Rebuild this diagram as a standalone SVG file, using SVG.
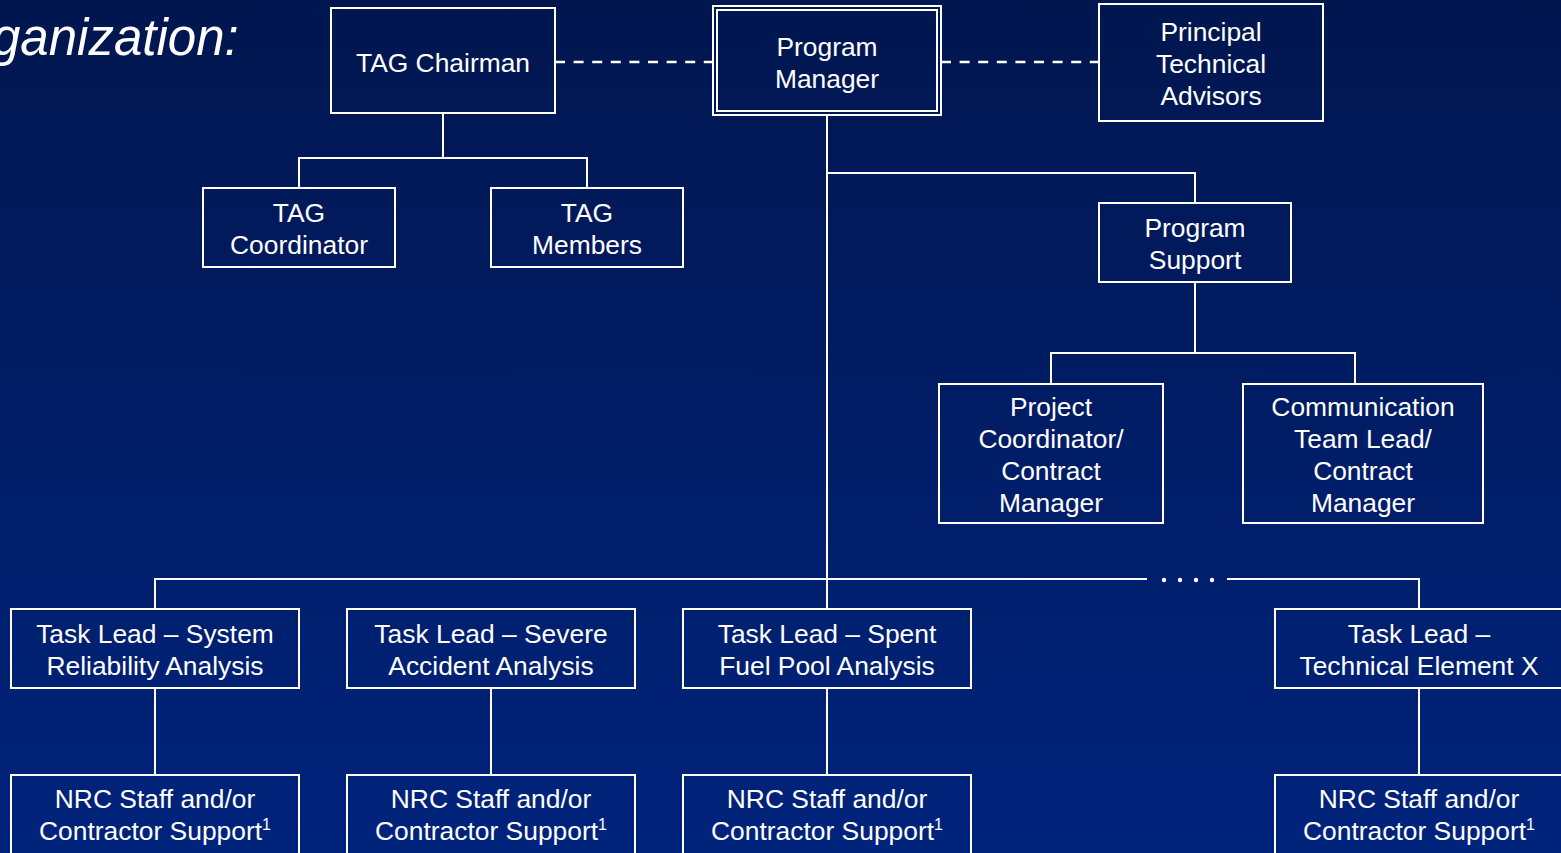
<svg xmlns="http://www.w3.org/2000/svg" width="1561" height="853" viewBox="0 0 1561 853">
<defs>
<linearGradient id="bg" x1="0" y1="0" x2="0" y2="1">
<stop offset="0" stop-color="#00164f"/>
<stop offset="1" stop-color="#00237c"/>
</linearGradient>
<style>
.b{fill:none;stroke:#fff;stroke-width:2}
.l{fill:none;stroke:#fff;stroke-width:2}
.d{fill:none;stroke:#fff;stroke-width:2.5;stroke-dasharray:10 8.6}
text{font-family:"Liberation Sans",Arial,sans-serif;font-size:26.4px;fill:#fff;text-anchor:middle}
.sup{font-size:16px}
</style>
</defs>
<rect width="1561" height="853" fill="url(#bg)"/>
<text x="-8" y="55" style="font-size:51px;font-style:italic;text-anchor:start">ganization:</text>
<g id="connectors">
<path class="d" d="M555 62H713M941 62H1099"/>
<path class="l" d="M443 113V158M299 188V158H587V188"/>
<path class="l" d="M827 115V609M827 173H1195V203"/>
<path class="l" d="M1195 282V353M1051 384V353H1355V384"/>
<path class="l" d="M155 609V579H1147M1227 579H1419V609"/>
<circle cx="1164" cy="580" r="2.2" fill="#fff"/>
<circle cx="1180" cy="580" r="2.2" fill="#fff"/>
<circle cx="1196" cy="580" r="2.2" fill="#fff"/>
<circle cx="1212" cy="580" r="2.2" fill="#fff"/>
<path class="l" d="M155 688V775M491 688V775M827 688V775M1419 688V775"/>
</g>
<g id="tag-chairman"><rect class="b" x="331" y="8" width="224" height="105"/><text x="443" y="72">TAG Chairman</text></g>
<g id="program-manager"><rect class="b" x="713" y="6" width="228" height="109"/><rect class="b" x="717" y="10" width="220" height="101"/><text x="827" y="56">Program</text><text x="827" y="88">Manager</text></g>
<g id="principal-technical-advisors"><rect class="b" x="1099" y="4" width="224" height="117"/><text x="1211" y="41">Principal</text><text x="1211" y="73">Technical</text><text x="1211" y="105">Advisors</text></g>
<g id="tag-coordinator"><rect class="b" x="203" y="188" width="192" height="79"/><text x="299" y="222">TAG</text><text x="299" y="254">Coordinator</text></g>
<g id="tag-members"><rect class="b" x="491" y="188" width="192" height="79"/><text x="587" y="222">TAG</text><text x="587" y="254">Members</text></g>
<g id="program-support"><rect class="b" x="1099" y="203" width="192" height="79"/><text x="1195" y="237">Program</text><text x="1195" y="269">Support</text></g>
<g id="project-coordinator"><rect class="b" x="939" y="384" width="224" height="139"/><text x="1051" y="416">Project</text><text x="1051" y="448">Coordinator/</text><text x="1051" y="480">Contract</text><text x="1051" y="512">Manager</text></g>
<g id="communication-lead"><rect class="b" x="1243" y="384" width="240" height="139"/><text x="1363" y="416">Communication</text><text x="1363" y="448">Team Lead/</text><text x="1363" y="480">Contract</text><text x="1363" y="512">Manager</text></g>
<g id="task-system"><rect class="b" x="11" y="609" width="288" height="79"/><text x="155" y="643">Task Lead – System</text><text x="155" y="675">Reliability Analysis</text></g>
<g id="task-severe"><rect class="b" x="347" y="609" width="288" height="79"/><text x="491" y="643">Task Lead – Severe</text><text x="491" y="675">Accident Analysis</text></g>
<g id="task-spent"><rect class="b" x="683" y="609" width="288" height="79"/><text x="827" y="643">Task Lead – Spent</text><text x="827" y="675">Fuel Pool Analysis</text></g>
<g id="task-x"><rect class="b" x="1275" y="609" width="290" height="79"/><text x="1419" y="643">Task Lead –</text><text x="1419" y="675">Technical Element X</text></g>
<g id="nrc-1"><rect class="b" x="11" y="775" width="288" height="90"/><text x="155" y="808">NRC Staff and/or</text><text x="155" y="840">Contractor Support<tspan class="sup" dy="-10">1</tspan></text></g>
<g id="nrc-2"><rect class="b" x="347" y="775" width="288" height="90"/><text x="491" y="808">NRC Staff and/or</text><text x="491" y="840">Contractor Support<tspan class="sup" dy="-10">1</tspan></text></g>
<g id="nrc-3"><rect class="b" x="683" y="775" width="288" height="90"/><text x="827" y="808">NRC Staff and/or</text><text x="827" y="840">Contractor Support<tspan class="sup" dy="-10">1</tspan></text></g>
<g id="nrc-4"><rect class="b" x="1275" y="775" width="290" height="90"/><text x="1419" y="808">NRC Staff and/or</text><text x="1419" y="840">Contractor Support<tspan class="sup" dy="-10">1</tspan></text></g>
</svg>
